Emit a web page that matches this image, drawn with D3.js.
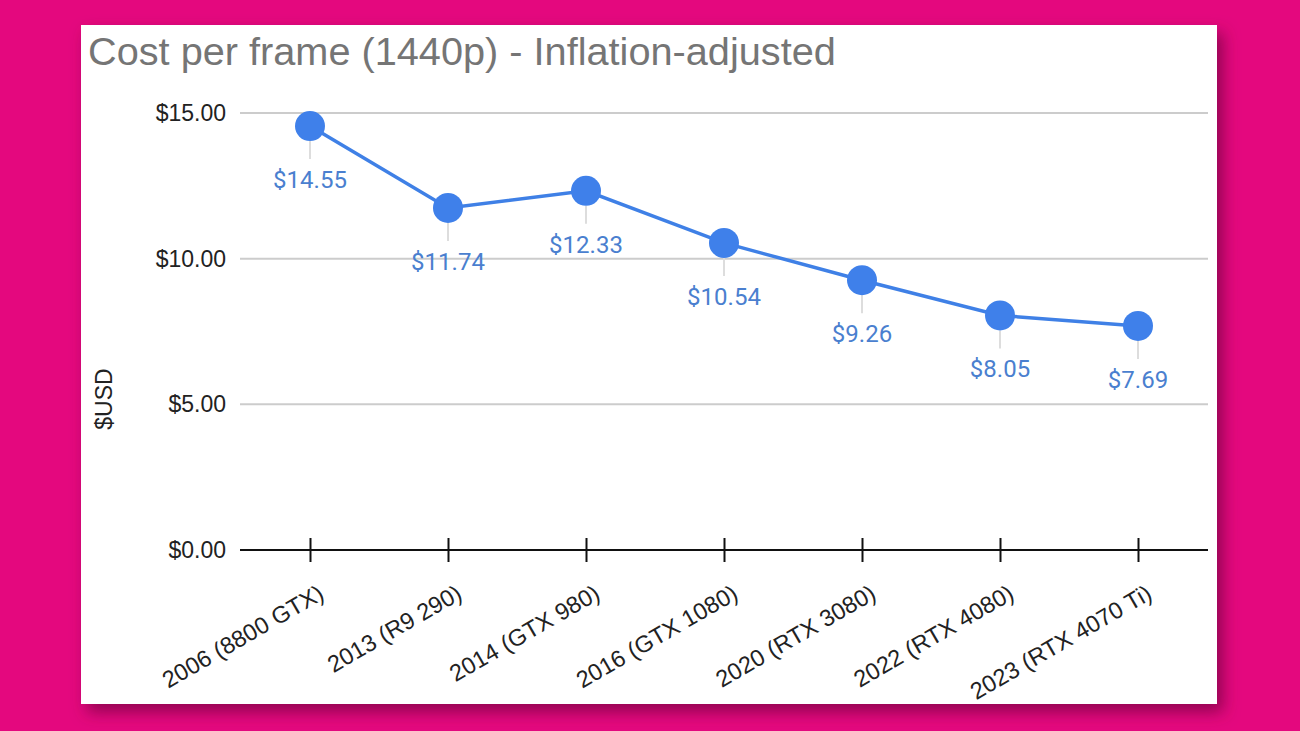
<!DOCTYPE html>
<html><head><meta charset="utf-8">
<script src="https://cdn.jsdelivr.net/npm/d3@7"></script>
<style>
html,body{margin:0;padding:0;background:#E4087E;}
svg{display:block;}
</style></head>
<body>
<svg id="chart" width="1300" height="731"></svg>
<script>
const categories = ["2006 (8800 GTX)","2013 (R9 290)","2014 (GTX 980)","2016 (GTX 1080)","2020 (RTX 3080)","2022 (RTX 4080)","2023 (RTX 4070 Ti)"];
const values = [14.55, 11.74, 12.33, 10.54, 9.26, 8.05, 7.69];
const yTicks = [0, 5, 10, 15];
const title = "Cost per frame (1440p) - Inflation-adjusted";
const yTitle = "$USD";

const svg = d3.select("#chart");
const defs = svg.append("defs");
const f = defs.append("filter").attr("id","sh").attr("x","-5%").attr("y","-5%").attr("width","115%").attr("height","115%");
f.append("feDropShadow").attr("dx",6).attr("dy",8).attr("stdDeviation",8).attr("flood-color","#5a0030").attr("flood-opacity",0.6);

svg.append("rect").attr("x",0).attr("y",0).attr("width",1300).attr("height",731).attr("fill","#E4087E");
svg.append("rect").attr("x",81).attr("y",25).attr("width",1136).attr("height",679).attr("fill","#fff").attr("filter","url(#sh)");

const x = d3.scalePoint().domain(categories).range([310,1138]);
const y = d3.scaleLinear().domain([0,15]).range([550,113]);
const xl = 240, xr = 1208;

svg.append("text").attr("x",88).attr("y",65).attr("font-family","Liberation Sans, Arial").attr("font-size",39.7).attr("fill","#757575").text(title);

// gridlines
svg.append("g").selectAll("line").data(yTicks.filter(d=>d>0)).join("line")
  .attr("x1",xl).attr("x2",xr).attr("y1",d=>y(d)).attr("y2",d=>y(d))
  .attr("stroke","#cccccc").attr("stroke-width",2);

// y labels
const yAxis = d3.axisLeft(y).tickValues(yTicks).tickSize(0).tickPadding(14).tickFormat(d=>"$"+d3.format(".2f")(d));
const gy = svg.append("g").attr("transform",`translate(${xl},0)`).call(yAxis);
gy.select(".domain").remove();
gy.selectAll("text").attr("font-family","Liberation Sans, Arial").attr("font-size",23).attr("fill","#222");

svg.append("text").attr("transform","translate(112,399) rotate(-90)").attr("text-anchor","middle")
  .attr("font-family","Liberation Sans, Arial").attr("font-size",23).attr("fill","#222").text(yTitle);

// x axis
svg.append("line").attr("x1",xl).attr("x2",xr).attr("y1",y(0)).attr("y2",y(0)).attr("stroke","#111").attr("stroke-width",2);
const xAxis = d3.axisBottom(x).tickSize(0).tickFormat("");
const gx = svg.append("g").attr("transform",`translate(0,${y(0)})`).call(xAxis);
gx.select(".domain").remove();
gx.selectAll(".tick").append("line").attr("y1",-12).attr("y2",12).attr("stroke","#111").attr("stroke-width",2);
gx.selectAll(".tick").append("text")
  .attr("transform","translate(15,48) rotate(-30)")
  .attr("text-anchor","end")
  .attr("font-family","Liberation Sans, Arial").attr("font-size",23.5).attr("fill","#222")
  .text(d=>d);

// leader lines
svg.append("g").selectAll("line").data(values).join("line")
  .attr("x1",(d,i)=>x(categories[i])).attr("x2",(d,i)=>x(categories[i]))
  .attr("y1",d=>y(d)+15).attr("y2",d=>y(d)+33)
  .attr("stroke","#dddddd").attr("stroke-width",2);

// line
svg.append("path").datum(values)
  .attr("d",d3.line().x((d,i)=>x(categories[i])).y(d=>y(d)))
  .attr("fill","none").attr("stroke","#3f80e6").attr("stroke-width",3.5);

svg.append("g").selectAll("circle").data(values).join("circle")
  .attr("cx",(d,i)=>x(categories[i])).attr("cy",d=>y(d)).attr("r",15).attr("fill","#3f80ea");

svg.append("g").selectAll("text").data(values).join("text")
  .attr("x",(d,i)=>x(categories[i])).attr("y",d=>y(d)+62)
  .attr("text-anchor","middle").attr("font-family","Roboto, Arial").attr("font-size",24).attr("fill","#4a7fcf")
  .text(d=>"$"+d3.format(".2f")(d));
</script>
</body></html>
